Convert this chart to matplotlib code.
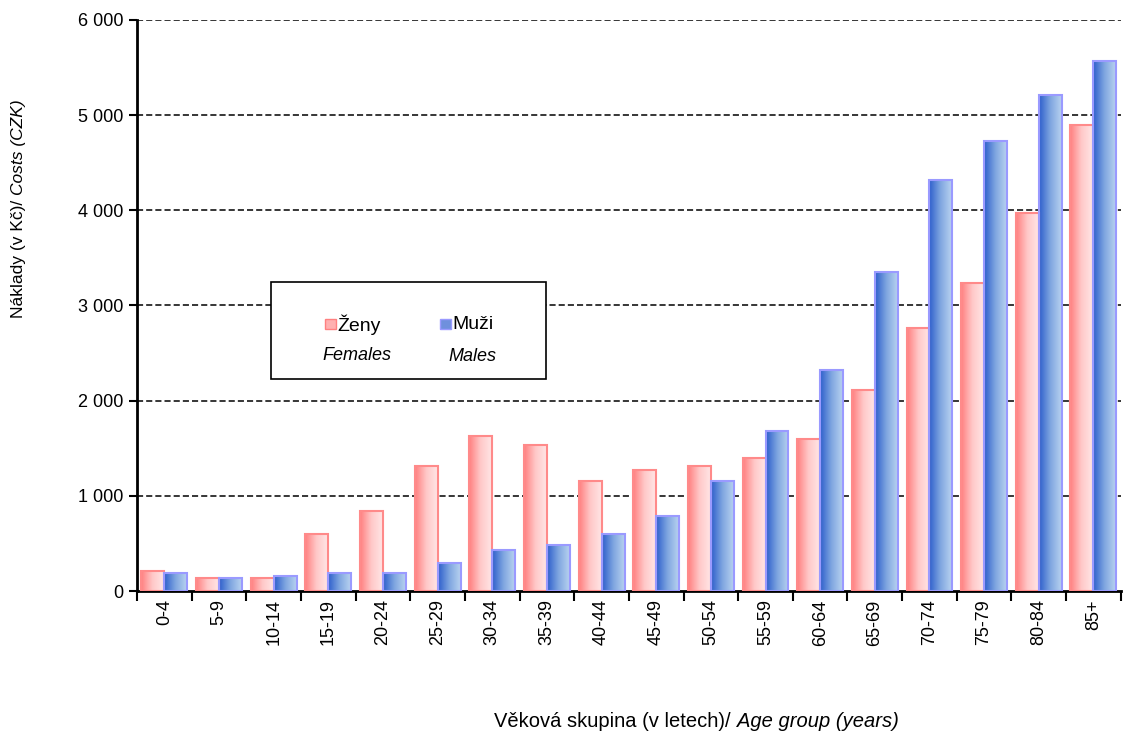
import numpy as np
import matplotlib.pyplot as plt
from matplotlib.patches import Rectangle
from matplotlib.colors import LinearSegmentedColormap

plt.rcParams['font.family'] = ['Liberation Sans', 'DejaVu Sans']

# Data
age_groups = ['0-4', '5-9', '10-14', '15-19', '20-24', '25-29', '30-34', '35-39',
              '40-44', '45-49', '50-54', '55-59', '60-64', '65-69', '70-74',
              '75-79', '80-84', '85+']
females = [210, 135, 135, 600, 840, 1310, 1630, 1535, 1155, 1270, 1310, 1400,
           1595, 2110, 2765, 3235, 3970, 4895]
males = [190, 135, 155, 190, 190, 295, 430, 485, 600, 790, 1155, 1680,
         2320, 3350, 4320, 4730, 5210, 5570]
y_ticks = [0, 1000, 2000, 3000, 4000, 5000, 6000]

female_cmap = LinearSegmentedColormap.from_list('f', ['#ff8080', '#ffc8c8', '#ffe6e6'])
male_cmap = LinearSegmentedColormap.from_list('m', ['#2e5fcc', '#7fa6e0', '#b8d2f0'])


def gradient_bars(ax, bars, cmap):
    # Fill each bar with a left-to-right gradient clipped to the bar
    grad = np.linspace(0, 1, 64).reshape(1, -1)
    for b in bars:
        x, y = b.get_x(), b.get_y()
        w, h = b.get_width(), b.get_height()
        im = ax.imshow(grad, cmap=cmap, aspect='auto', extent=(x, x + w, y, y + h),
                       zorder=b.get_zorder() - 0.1, interpolation='bilinear')
        im.set_clip_path(b)
        b.set_facecolor('none')


fig = plt.figure(figsize=(11.23, 7.37), dpi=100)
ax = fig.add_axes([0.122, 0.198, 0.876, 0.775])

x = np.arange(len(age_groups))
w = 0.42
fb = ax.bar(x - w / 2, females, w, edgecolor='#ff8a8a', linewidth=1.5, zorder=3)
mb = ax.bar(x + w / 2, males, w, edgecolor='#9a9aff', linewidth=1.5, zorder=3)
gradient_bars(ax, fb, female_cmap)
gradient_bars(ax, mb, male_cmap)

ax.set_xlim(-0.5, len(age_groups) - 0.5)
ax.set_ylim(0, 6000)

# Gridlines
for v in y_ticks[1:]:
    ax.axhline(v, color='black', linestyle=(0, (4, 2)), linewidth=1.1, zorder=1)

ax.spines['top'].set_visible(False)
ax.spines['right'].set_visible(False)
ax.spines['left'].set_linewidth(2)
ax.spines['bottom'].set_linewidth(2)

ax.set_yticks(y_ticks)
ax.set_yticklabels([f'{v:,}'.replace(',', ' ') for v in y_ticks], fontsize=13)
ax.tick_params(axis='y', direction='out', length=6, width=1.5, pad=4)

ax.set_xticks(x)
ax.set_xticklabels(age_groups, rotation=90, fontsize=13)
ax.set_xticks(np.arange(len(age_groups) + 1) - 0.5, minor=True)
ax.tick_params(axis='x', which='major', length=0, pad=6)
ax.tick_params(axis='x', which='minor', direction='out', length=7, width=1.5)

# Legend box
ax.add_patch(Rectangle((0.136, 0.371), 0.28, 0.17, transform=ax.transAxes,
                       facecolor='white', edgecolor='black', linewidth=1.2, zorder=5))
ax.add_patch(Rectangle((0.191, 0.458), 0.011, 0.018, transform=ax.transAxes,
                       facecolor='#ffb0b0', edgecolor='#ff8080', linewidth=1, zorder=6))
ax.add_patch(Rectangle((0.308, 0.458), 0.011, 0.018, transform=ax.transAxes,
                       facecolor='#6f90dd', edgecolor='#9a9aff', linewidth=1, zorder=6))
ax.text(0.204, 0.467, 'Ženy', transform=ax.transAxes, fontsize=14, va='center', zorder=7)
ax.text(0.321, 0.467, 'Muži', transform=ax.transAxes, fontsize=14, va='center', zorder=7)
ax.text(0.188, 0.413, 'Females', transform=ax.transAxes, fontsize=13, style='italic',
        va='center', zorder=7)
ax.text(0.317, 0.410, 'Males', transform=ax.transAxes, fontsize=13, style='italic',
        va='center', zorder=7)

# Axis labels with mixed upright / italic parts
t1 = fig.text(0.656, 0.008, 'Věková skupina (v letech)/ ', fontsize=14.5,
              ha='right', va='bottom')
ax.annotate('Age group (years)', xy=(1, 0), xycoords=t1, fontsize=14.5,
            style='italic', ha='left', va='bottom', annotation_clip=False)

y1 = fig.text(0.010, 0.568, 'Náklady (v Kč)/ ', fontsize=12.5, rotation=90,
              ha='left', va='bottom')
ax.annotate('Costs (CZK)', xy=(0, 1), xycoords=y1, fontsize=12.5, rotation=90,
            style='italic', ha='left', va='bottom', annotation_clip=False)

fig.savefig('out.png', dpi=100)
